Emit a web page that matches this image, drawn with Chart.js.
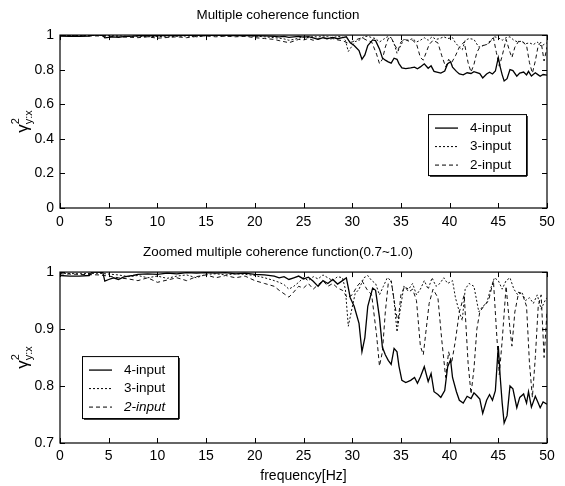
<!DOCTYPE html>
<html>
<head>
<meta charset="utf-8">
<script src="https://cdn.jsdelivr.net/npm/chart.js@4.4.0/dist/chart.umd.min.js"></script>
<style>
  body { margin: 0; background: #fff; }
  canvas { position: absolute; left: 0; }
</style>
</head>
<body>
<canvas id="top" width="565" height="243" style="top:0"></canvas>
<canvas id="bottom" width="565" height="243" style="top:243px"></canvas>
<script>
// frequencia [Hz] y coherencia de cada modelo
var freq4 = [0, 1, 2, 3, 3.3, 3.6, 4, 4.4, 4.6, 5, 5.5, 6, 6.5, 7, 7.5, 8, 9, 10, 11, 12, 13, 14, 15, 16, 17, 18, 19, 20, 21, 22, 22.5, 23, 23.5, 24, 24.5, 25, 25.5, 26, 26.5, 27, 27.5, 28, 28.5, 29, 29.4, 29.8, 30.2, 30.7, 31, 31.3, 31.6, 32.1, 32.4, 32.8, 33.1, 33.4, 33.7, 34, 34.3, 34.6, 34.8, 35.1, 35.5, 36, 36.4, 36.7, 37, 37.4, 37.8, 38.1, 38.4, 38.8, 39.1, 39.5, 39.8, 40.1, 40.3, 40.7, 41, 41.4, 41.8, 42.2, 42.5, 42.8, 43.1, 43.4, 43.8, 44.1, 44.4, 44.7, 45, 45.2, 45.4, 45.6, 45.9, 46.2, 46.5, 46.9, 47.2, 47.6, 47.9, 48.1, 48.4, 48.8, 49.1, 49.3, 49.6, 50];
var coh4 = [0.994, 0.993, 0.993, 0.994, 1.0, 1.0, 1.0, 0.999, 0.984, 0.987, 0.99, 0.987, 0.991, 0.993, 0.994, 0.996, 0.997, 0.996, 0.998, 0.997, 0.999, 0.998, 0.999, 0.998, 0.999, 0.997, 0.998, 0.996, 0.995, 0.993, 0.99, 0.992, 0.987, 0.99, 0.993, 0.988, 0.991, 0.984, 0.975, 0.985, 0.98, 0.987, 0.979, 0.985, 0.99, 0.955, 0.94, 0.91, 0.86, 0.885, 0.94, 0.972, 0.968, 0.92, 0.868, 0.855, 0.845, 0.838, 0.866, 0.86, 0.835, 0.81, 0.806, 0.81, 0.815, 0.805, 0.816, 0.834, 0.808, 0.822, 0.79, 0.785, 0.78, 0.792, 0.834, 0.846, 0.815, 0.79, 0.775, 0.77, 0.782, 0.778, 0.788, 0.783, 0.777, 0.752, 0.775, 0.785, 0.775, 0.792, 0.87, 0.815, 0.77, 0.735, 0.748, 0.8, 0.795, 0.762, 0.78, 0.786, 0.77, 0.79, 0.763, 0.782, 0.77, 0.762, 0.772, 0.768];

var freq3 = [0, 2, 4, 6, 7, 8, 9, 10, 11, 12, 13, 14, 15, 16, 17, 18, 19, 20, 21, 22, 22.5, 23, 23.5, 24, 24.5, 25, 25.5, 26, 26.5, 27, 27.5, 28, 28.5, 29, 29.3, 29.6, 29.9, 30.3, 30.7, 31.2, 31.6, 32, 32.4, 32.8, 33.2, 33.6, 34, 34.3, 34.6, 34.9, 35.3, 35.8, 36.2, 36.6, 37, 37.4, 37.8, 38.2, 38.6, 39, 39.4, 39.8, 40.3, 40.6, 41, 41.3, 41.6, 42, 42.5, 43, 43.4, 43.8, 44.2, 44.6, 45, 45.4, 45.8, 46.2, 46.6, 47, 47.4, 47.8, 48.2, 48.6, 49, 49.4, 49.8, 50];
var coh3 = [0.998, 0.997, 0.998, 0.995, 0.992, 0.994, 0.99, 0.993, 0.989, 0.993, 0.995, 0.99, 0.996, 0.997, 0.995, 0.997, 0.996, 0.994, 0.99, 0.985, 0.982, 0.978, 0.97, 0.975, 0.982, 0.99, 0.985, 0.992, 0.988, 0.995, 0.99, 0.985, 0.992, 0.99, 0.97, 0.905, 0.93, 0.962, 0.97, 0.99, 0.994, 0.985, 0.98, 0.96, 0.975, 0.99, 0.985, 0.95, 0.895, 0.93, 0.975, 0.97, 0.98, 0.96, 0.97, 0.985, 0.97, 0.99, 0.975, 0.98, 0.99, 0.98, 0.985, 0.955, 0.93, 0.915, 0.97, 0.98, 0.975, 0.93, 0.94, 0.945, 0.97, 0.99, 0.985, 0.97, 0.985, 0.99, 0.97, 0.96, 0.965, 0.95, 0.955, 0.945, 0.96, 0.935, 0.95, 0.955];

var freq2 = [0, 2, 4, 5, 6, 7, 8, 9, 10, 11, 12, 13, 14, 15, 16, 17, 18, 19, 20, 21, 22, 22.5, 23, 23.5, 24, 24.5, 25, 25.5, 26, 26.5, 27, 27.5, 28, 28.5, 29, 29.5, 30, 30.5, 31, 31.5, 32, 32.5, 32.8, 33.1, 33.4, 33.7, 34, 34.4, 34.7, 35, 35.4, 35.8, 36.2, 36.6, 37, 37.3, 37.6, 37.9, 38.3, 38.8, 39.2, 39.6, 39.9, 40.2, 40.6, 41, 41.5, 41.9, 42.2, 42.5, 42.8, 43.1, 43.5, 44, 44.5, 44.8, 45.1, 45.4, 45.8, 46.2, 46.4, 46.7, 47.1, 47.5, 47.9, 48.2, 48.5, 48.8, 49.1, 49.4, 49.7, 50];
var coh2 = [0.997, 0.996, 0.995, 0.993, 0.99, 0.988, 0.985, 0.99, 0.982, 0.986, 0.99, 0.985, 0.992, 0.995, 0.99, 0.994, 0.99, 0.993, 0.985, 0.98, 0.975, 0.968, 0.962, 0.956, 0.965, 0.975, 0.972, 0.98, 0.97, 0.978, 0.985, 0.975, 0.98, 0.972, 0.968, 0.955, 0.96, 0.975, 0.985, 0.97, 0.96, 0.89, 0.835, 0.86, 0.93, 0.98, 0.985, 0.94, 0.91, 0.96, 0.975, 0.965, 0.97, 0.95, 0.87, 0.855, 0.9, 0.945, 0.97, 0.955, 0.88, 0.815, 0.86, 0.84, 0.88, 0.93, 0.96, 0.84, 0.786, 0.83, 0.9, 0.93, 0.94, 0.95, 0.985, 0.9, 0.82, 0.88, 0.975, 0.9, 0.87, 0.93, 0.965, 0.96, 0.94, 0.84, 0.78, 0.85, 0.94, 0.96, 0.85, 0.93];

var seriesLabels = ['4-input', '3-input', '2-input'];
var xTicks = [0, 5, 10, 15, 20, 25, 30, 35, 40, 45, 50];
var yTicksTop = [0, 0.2, 0.4, 0.6, 0.8, 1];
var yTicksBottom = [0.7, 0.8, 0.9, 1];

var fuente = 'Liberation Sans, Arial, sans-serif';

const puntos = (fs, vs) => fs.map((f, i) => ({ x: f, y: vs[i] }));

const crearDatasets = () => [{
    label: seriesLabels[0],
    data: puntos(freq4, coh4),
    borderColor: '#000',
    borderWidth: 1.3
}, {
    label: seriesLabels[1],
    data: puntos(freq3, coh3),
    borderColor: '#111',
    borderWidth: 1,
    borderDash: [2, 2]
}, {
    label: seriesLabels[2],
    data: puntos(freq2, coh2),
    borderColor: '#111',
    borderWidth: 1,
    borderDash: [4, 3]
}];

// caja estilo matlab, ticks interiores, leyenda y etiqueta del eje y
const cajaEjes = {
    id: 'cajaEjes',
    afterDraw(chart, args, opts) {
        const { ctx, chartArea: a, scales: { x, y } } = chart;
        ctx.save();
        ctx.strokeStyle = '#000';
        ctx.lineWidth = 1.2;
        ctx.setLineDash([]);
        ctx.strokeRect(a.left, a.top, a.right - a.left, a.bottom - a.top);

        const linea = (x1, y1, x2, y2) => {
            ctx.beginPath(); ctx.moveTo(x1, y1); ctx.lineTo(x2, y2); ctx.stroke();
        };
        ctx.lineWidth = 1;
        x.ticks.forEach(t => {
            const px = Math.round(x.getPixelForValue(t.value)) + 0.5;
            linea(px, a.bottom, px, a.bottom - 5);
            linea(px, a.top, px, a.top + 5);
        });
        y.ticks.forEach(t => {
            const py = Math.round(y.getPixelForValue(t.value)) + 0.5;
            linea(a.left, py, a.left + 5, py);
            linea(a.right, py, a.right - 5, py);
        });

        // etiqueta gamma^2_{y:x}
        ctx.fillStyle = '#000';
        ctx.translate(22, (a.top + a.bottom) / 2);
        ctx.rotate(-Math.PI / 2);
        ctx.textBaseline = 'middle';
        ctx.textAlign = 'left';
        ctx.font = '17px ' + fuente;
        const wG = ctx.measureText('γ').width;
        ctx.font = '11px ' + fuente;
        const wS = ctx.measureText('y:x').width;
        const x0 = -(wG + wS) / 2;
        ctx.font = '17px ' + fuente;
        ctx.fillText('γ', x0, 1);
        ctx.font = '11px ' + fuente;
        ctx.fillText('2', x0 + wG, -6);
        ctx.fillText('y:x', x0 + wG, 7);
        ctx.setTransform(1, 0, 0, 1, 0, 0);

        // leyenda
        const L = opts.leyenda;
        const bx = a.left + L.dx, by = a.top + L.dy;
        ctx.fillStyle = '#fff';
        ctx.fillRect(bx, by, L.w, L.h);
        ctx.strokeStyle = '#000';
        ctx.lineWidth = 1;
        ctx.strokeRect(bx + 0.5, by + 0.5, L.w, L.h);
        ctx.lineWidth = 1.5;
        linea(bx + 2, by + L.h + 1, bx + L.w + 1, by + L.h + 1);
        linea(bx + L.w + 1, by + 2, bx + L.w + 1, by + L.h + 1);
        chart.data.datasets.forEach((ds, i) => {
            const cy = by + 14 + i * 18.5;
            ctx.lineWidth = ds.borderWidth;
            ctx.setLineDash(ds.borderDash || []);
            linea(bx + 7, cy, bx + 30, cy);
            ctx.setLineDash([]);
            ctx.fillStyle = '#000';
            ctx.textBaseline = 'middle';
            ctx.font = (L.cursiva && i === 2 ? 'italic ' : '') + '13.5px ' + fuente;
            ctx.fillText(ds.label, bx + 42, cy);
        });
        ctx.restore();
    }
};

const crearGrafico = (id, cfg) => new Chart(document.getElementById(id), {
    type: 'line',
    data: { datasets: crearDatasets() },
    plugins: [cajaEjes],
    options: {
        responsive: false,
        animation: false,
        elements: { point: { radius: 0 }, line: { tension: 0 } },
        layout: { padding: { left: 9, right: 18, top: 0, bottom: 0 } },
        scales: {
            x: {
                type: 'linear',
                min: 0,
                max: 50,
                afterBuildTicks: s => { s.ticks = xTicks.map(v => ({ value: v })); },
                afterFit: s => { s.height = cfg.altoX; },
                grid: { display: false, drawTicks: false },
                border: { display: false },
                ticks: { color: '#000', padding: cfg.padX, maxRotation: 0, font: { size: 14, family: fuente } },
                title: {
                    display: !!cfg.tituloX,
                    text: cfg.tituloX || '',
                    color: '#000',
                    font: { size: 14, family: fuente },
                    padding: { top: 0, bottom: 1 }
                }
            },
            y: {
                min: cfg.yMin,
                max: 1,
                afterBuildTicks: s => { s.ticks = cfg.yTicks.map(v => ({ value: v })); },
                afterFit: s => { s.width = 51; },
                grid: { display: false, drawTicks: false },
                border: { display: false },
                ticks: {
                    color: '#000',
                    padding: 6,
                    font: { size: 14, family: fuente },
                    callback: v => String(parseFloat(v.toFixed(2)))
                }
            }
        },
        plugins: {
            legend: { display: false },
            tooltip: { enabled: false },
            title: {
                display: true,
                text: cfg.titulo,
                color: '#000',
                font: { size: 13.4, weight: 'normal', family: fuente },
                padding: cfg.padTitulo
            },
            cajaEjes: { leyenda: cfg.leyenda }
        }
    }
});

crearGrafico('top', {
    titulo: 'Multiple coherence function',
    padTitulo: { top: 7, bottom: 12 },
    yMin: 0,
    yTicks: yTicksTop,
    altoX: 35,
    padX: 6,
    leyenda: { dx: 368, dy: 79, w: 98, h: 61, cursiva: false }
});

crearGrafico('bottom', {
    titulo: 'Zoomed multiple coherence function(0.7~1.0)',
    padTitulo: { top: 1, bottom: 12 },
    yMin: 0.7,
    yTicks: yTicksBottom,
    altoX: 43,
    padX: 5,
    tituloX: 'frequency[Hz]',
    leyenda: { dx: 22, dy: 84, w: 96, h: 62, cursiva: true }
});
</script>
</body>
</html>
